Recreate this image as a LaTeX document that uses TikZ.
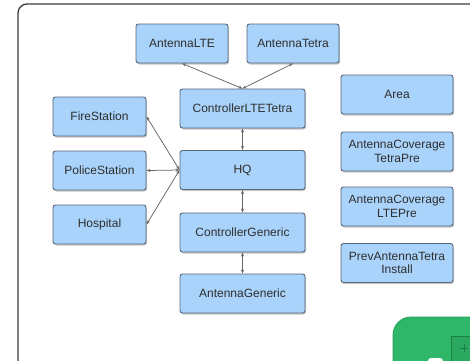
\documentclass[tikz,border=0pt]{standalone}
\usepackage{fontspec}
\setmainfont{Liberation Sans}
\usetikzlibrary{shadows,arrows.meta}
\definecolor{boxfill}{HTML}{A9D3FA}
\definecolor{boxline}{HTML}{56677A}
\definecolor{textgray}{HTML}{2E2E2E}
\definecolor{linkgray}{HTML}{646464}
\definecolor{frameline}{HTML}{3A3A3A}
\definecolor{badgegreen}{HTML}{2EB768}
\definecolor{badgeedge}{HTML}{22A055}
\begin{document}
\begin{tikzpicture}[x=1pt,y=-1pt,
  entity/.style={draw=boxline, fill=boxfill, line width=0.9pt, rounded corners=2.5pt,
    text=textgray, font=\fontsize{12}{13.5}\selectfont, align=center, inner sep=0pt,
    drop shadow={shadow xshift=1pt, shadow yshift=-1.5pt, opacity=0.45}},
  wide/.style={minimum width=125pt, minimum height=39pt},
  side/.style={minimum width=93pt, minimum height=39pt},
  right/.style={minimum width=112pt, minimum height=39pt},
  link/.style={draw=linkgray, line width=0.75pt,
    {Stealth[length=4pt,width=3pt]}-{Stealth[length=4pt,width=3pt]}}]

\useasboundingbox (0,0) rectangle (470,360);
\clip (0,0) rectangle (470,360);

% outer frame
\draw[frameline, line width=1.3pt, rounded corners=9pt] (18,400) -- (18,4) -- (500,4);

% centre column
\node[entity, minimum width=92pt, minimum height=39pt] (alte) at (182,43.5) {AntennaLTE};
\node[entity, minimum width=92pt, minimum height=39pt] (atetra) at (293,43.5) {AntennaTetra};
\node[entity, wide] (ctrl) at (242.5,108.5) {ControllerLTETetra};
\node[entity, wide] (hq) at (242.5,170) {HQ};
\node[entity, wide] (cgen) at (242.5,232.5) {ControllerGeneric};
\node[entity, wide] (agen) at (242.5,293.5) {AntennaGeneric};

% left column
\node[entity, side] (fire) at (99.5,116.5) {FireStation};
\node[entity, side] (police) at (99.5,170.5) {PoliceStation};
\node[entity, side] (hosp) at (99.5,224.5) {Hospital};

% right column
\node[entity, right] (area) at (397,94.5) {Area};
\node[entity, right] (covtetra) at (397,151.5) {AntennaCoverage\\TetraPre};
\node[entity, right] (covlte) at (397,206.5) {AntennaCoverage\\LTEPre};
\node[entity, right] (prev) at (397,263) {PrevAntennaTetra\\Install};

% connectors
\draw[link] (alte.south) -- (ctrl.north);
\draw[link] (atetra.south) -- (ctrl.north);
\draw[link] (ctrl.south) -- (hq.north);
\draw[link] (hq.south) -- (cgen.north);
\draw[link] (cgen.south) -- (agen.north);
\draw[link] (hq.west) -- (fire.east);
\draw[link] (hq.west) -- (police.east);
\draw[link] (hq.west) -- (hosp.east);

% green badge in the lower right corner
\filldraw[fill=badgegreen, draw=badgeedge, line width=0.8pt, rounded corners=18pt]
  (393,317) rectangle (540,420);
\draw[badgeedge!80!black, line width=0.8pt, fill=badgegreen!92!black] (451,336) rectangle (500,400);
\draw[badgeedge!80!black, line width=0.8pt] (460,348) -- (468,348) (464,344) -- (464,352);
\fill[white, rounded corners=3pt] (428,358) rectangle (443,366);
\end{tikzpicture}
\end{document}
